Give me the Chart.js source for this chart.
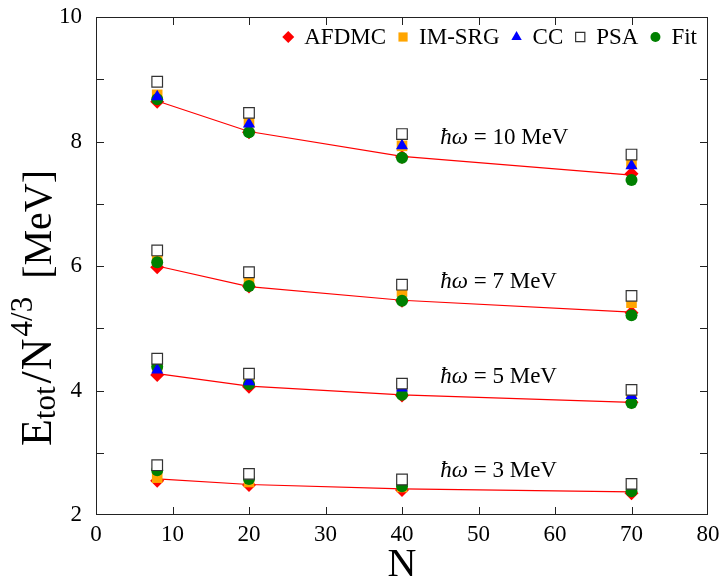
<!DOCTYPE html>
<html>
<head>
<meta charset="utf-8">
<script src="https://cdn.jsdelivr.net/npm/chart.js@4.4.1/dist/chart.umd.min.js"></script>
<style>
  html, body { margin: 0; padding: 0; background: #fff; }
  #grafico { display: block; }
</style>
</head>
<body>
<canvas id="grafico" width="723" height="578"></canvas>
<script>
  // N values and the hw groups (10, 7, 5, 3 MeV)
  const valoresN = [8, 20, 40, 70];
  const rotulosHw = ['10', '7', '5', '3'];

  // E_tot / N^(4/3) per method, one row per hw group
  const afdmc = [
    [8.64, 8.15, 7.75, 7.48],
    [5.98, 5.67, 5.44, 5.25],
    [4.25, 4.06, 3.92, 3.81],
    [2.55, 2.48, 2.40, 2.35]
  ];
  const imsrg = [
    [8.75, 8.31, 7.93, 7.65],
    [6.12, 5.79, 5.59, 5.41],
    [4.37, 4.17, 4.07, 3.97],
    [2.60, 2.53, 2.45, 2.45]
  ];
  const cc = [
    [8.72, 8.28, 7.93, 7.61],
    null,
    [4.33, 4.14, 4.04, 3.92],
    null
  ];
  const psa = [
    [8.96, 8.46, 8.12, 7.79],
    [6.25, 5.90, 5.70, 5.52],
    [4.51, 4.27, 4.11, 4.01],
    [2.80, 2.66, 2.57, 2.50]
  ];
  const fit = [
    [8.68, 8.15, 7.74, 7.38],
    [6.06, 5.68, 5.44, 5.21],
    [4.38, 4.10, 3.93, 3.80],
    [2.72, 2.58, 2.46, 2.38]
  ];
  // red curve for each group
  const curva = [
    [8.65, 8.16, 7.76, 7.46],
    [6.00, 5.67, 5.45, 5.26],
    [4.27, 4.07, 3.93, 3.81],
    [2.58, 2.49, 2.42, 2.37]
  ];

  const fonte = '"Liberation Serif", "Times New Roman", serif';

  function pontos(grupos) {
    const lista = [];
    grupos.forEach(valores => {
      if (!valores) return;
      valores.forEach((v, i) => lista.push({ x: valoresN[i], y: v }));
    });
    return lista;
  }

  const series = [
    { label: 'AFDMC', data: pontos(afdmc), pointStyle: 'rectRot', pointRadius: 7, backgroundColor: '#ff0000', borderColor: '#ff0000', borderWidth: 0, order: 5 },
    { label: 'IM-SRG', data: pontos(imsrg), pointStyle: 'rect', pointRadius: 7.5, backgroundColor: '#ffa500', borderColor: '#ffa500', borderWidth: 0, order: 4 },
    { label: 'CC', data: pontos(cc), pointStyle: 'triangle', pointRadius: 7, backgroundColor: '#0000ff', borderColor: '#0000ff', borderWidth: 0, order: 2 },
    { label: 'PSA', data: pontos(psa), pointStyle: 'rect', pointRadius: 7.5, backgroundColor: '#ffffff', borderColor: '#333333', borderWidth: 1.2, order: 1 },
    { label: 'Fit', data: pontos(fit), pointStyle: 'circle', pointRadius: 6, backgroundColor: '#008000', borderColor: '#008000', borderWidth: 0, order: 3 }
  ];

  const linhas = curva.map(valores => ({
    label: '',
    data: valores.map((v, i) => ({ x: valoresN[i], y: v })),
    showLine: true,
    pointRadius: 0,
    borderColor: '#ff0000',
    borderWidth: 1.2,
    order: 6
  }));

  // frame, inward ticks, legend, labels and axis titles
  const desenhos = {
    id: 'desenhos',
    afterDraw(chart) {
      const { ctx, chartArea: a, scales: { x, y } } = chart;
      ctx.save();
      ctx.strokeStyle = '#222';
      ctx.lineWidth = 1;
      ctx.strokeRect(a.left + 0.5, a.top + 0.5, a.right - a.left - 1, a.bottom - a.top - 1);

      ctx.beginPath();
      for (let v = 10; v < 80; v += 10) {
        const px = Math.round(x.getPixelForValue(v)) + 0.5;
        ctx.moveTo(px, a.bottom); ctx.lineTo(px, a.bottom - 8);
        ctx.moveTo(px, a.top); ctx.lineTo(px, a.top + 8);
      }
      for (let v = 3; v < 10; v += 1) {
        const py = Math.round(y.getPixelForValue(v)) + 0.5;
        ctx.moveTo(a.left, py); ctx.lineTo(a.left + 8, py);
        ctx.moveTo(a.right, py); ctx.lineTo(a.right - 8, py);
      }
      ctx.stroke();

      // legend, right-aligned inside the frame
      ctx.font = '23px ' + fonte;
      ctx.textBaseline = 'middle';
      let cx = a.right - 11;
      const ly = a.top + 20;
      for (let i = series.length - 1; i >= 0; i--) {
        const s = series[i];
        const w = ctx.measureText(s.label).width;
        cx -= w;
        ctx.fillStyle = '#000';
        ctx.textAlign = 'left';
        ctx.fillText(s.label, cx, ly + 1);
        cx -= 16;
        ctx.fillStyle = s.backgroundColor;
        ctx.strokeStyle = s.borderColor;
        ctx.lineWidth = s.borderWidth;
        Chart.helpers.drawPoint(ctx, { pointStyle: s.pointStyle, radius: s.pointRadius - 1, rotation: 0, borderWidth: s.borderWidth }, cx, ly);
        cx -= 17;
      }

      // hw labels above each curve
      curva.forEach((valores, g) => {
        const px = x.getPixelForValue(45);
        const py = y.getPixelForValue(valores[2]) - 18;
        ctx.textBaseline = 'middle';
        ctx.textAlign = 'left';
        ctx.fillStyle = '#000';
        ctx.font = 'italic 23px ' + fonte;
        const hw = 'ħω';
        ctx.fillText(hw, px, py);
        const w = ctx.measureText(hw).width;
        ctx.font = '23px ' + fonte;
        ctx.fillText(' = ' + rotulosHw[g] + ' MeV', px + w, py);
      });

      // x title
      ctx.font = '40px ' + fonte;
      ctx.textAlign = 'center';
      ctx.textBaseline = 'alphabetic';
      ctx.fillText('N', (a.left + a.right) / 2, 576);

      // y title: E_tot / N^(4/3) [MeV], each piece with its own size, shift and spacing
      const partes = [
        { t: 'E', f: 44, dy: 0, gap: 0 },
        { t: 'tot', f: 31, dy: 4, gap: 0 },
        { t: '/', f: 44, dy: 0, gap: 3 },
        { t: 'N', f: 44, dy: 0, gap: 1 },
        { t: '4/3', f: 31, dy: -19, gap: 2 },
        { t: '[MeV]', f: 40, dy: 0, gap: 18 }
      ];
      let total = 0;
      partes.forEach(p => { ctx.font = p.f + 'px ' + fonte; p.w = ctx.measureText(p.t).width; total += p.w + p.gap; });
      ctx.translate(51, 308);
      ctx.rotate(-Math.PI / 2);
      ctx.textAlign = 'left';
      let tx = -total / 2;
      partes.forEach(p => {
        tx += p.gap;
        ctx.font = p.f + 'px ' + fonte;
        ctx.fillText(p.t, tx, p.dy);
        tx += p.w;
      });
      ctx.restore();
    }
  };

  // fixed plot box: drop the label overhang Chart.js adds around the axes
  function semFolga(s) {
    s.paddingTop = 0; s.paddingBottom = 0; s.paddingLeft = 0; s.paddingRight = 0;
  }

  new Chart(document.getElementById('grafico'), {
    type: 'scatter',
    data: { datasets: [...series, ...linhas] },
    options: {
      responsive: false,
      animation: false,
      layout: { padding: { top: 17, right: 15, left: 0, bottom: 0 } },
      plugins: { legend: { display: false }, tooltip: { enabled: false } },
      scales: {
        x: {
          type: 'linear', min: 0, max: 80,
          grid: { display: false, drawTicks: false },
          border: { display: false },
          ticks: { stepSize: 10, padding: 6, color: '#000', font: { family: fonte, size: 23 } },
          afterFit(s) { s.height = 63; semFolga(s); }
        },
        y: {
          type: 'linear', min: 2, max: 10,
          grid: { display: false, drawTicks: false },
          border: { display: false },
          ticks: { stepSize: 2, padding: 14, color: '#000', font: { family: fonte, size: 23 } },
          afterFit(s) { s.width = 96; semFolga(s); }
        }
      }
    },
    plugins: [desenhos]
  });
</script>
</body>
</html>
